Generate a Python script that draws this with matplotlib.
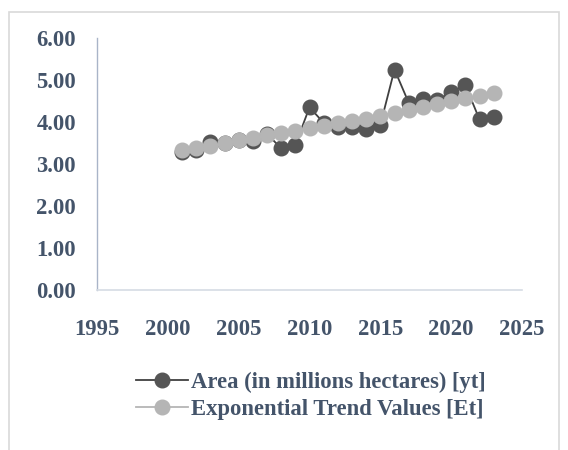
# area under cultivation vs exponential trend, excel-style line chart
import matplotlib
matplotlib.use('Agg')
import matplotlib.pyplot as plt
from matplotlib.patches import Rectangle
from matplotlib.ticker import FormatStrFormatter

# data
years = list(range(2001, 2024))
area = [3.29, 3.33, 3.52, 3.50, 3.56, 3.55, 3.72, 3.37, 3.45, 4.35, 3.98, 3.89,
        3.88, 3.83, 3.93, 5.25, 4.46, 4.55, 4.52, 4.71, 4.88, 4.06, 4.11]
trend = [3.33, 3.39, 3.44, 3.49, 3.56, 3.61, 3.69, 3.73, 3.79, 3.85, 3.90, 3.97,
         4.02, 4.08, 4.15, 4.22, 4.29, 4.36, 4.42, 4.50, 4.56, 4.63, 4.70]
labels = ['Area (in millions hectares) [yt]', 'Exponential Trend Values [Et]']
xticks = [1995, 2000, 2005, 2010, 2015, 2020, 2025]
yticks = [0, 1, 2, 3, 4, 5, 6]

txt_col = '#44546A'
font = 'Liberation Serif'
fsize = 16.3

fig = plt.figure(figsize=(5.68, 4.5), dpi=100)

# chart border (bottom edge runs off the canvas like the reference)
fig.patches.append(Rectangle((9/568, -0.05), 550/568, 1.05 - 12/450,
                             transform=fig.transFigure, fill=False,
                             edgecolor='#D9D9D9', linewidth=1.2))

ax = fig.add_axes([97/568, 1 - 290/450, 425/568, 252/450])

ax.plot(years, area, color='#404040', linewidth=1.3, marker='o',
        markersize=10.5, markerfacecolor='#555555', markeredgecolor='#555555',
        label=labels[0], zorder=3)
ax.plot(years, trend, color='#B5B5B5', linewidth=1.3, marker='o',
        markersize=10.5, markerfacecolor='#B5B5B5', markeredgecolor='#B5B5B5',
        label=labels[1], zorder=4)

ax.set_xlim(1995, 2025)
ax.set_ylim(0, 6)
ax.set_xticks(xticks)
ax.set_yticks(yticks)
ax.yaxis.set_major_formatter(FormatStrFormatter('%.2f'))

for s in ['top', 'right']:
    ax.spines[s].set_visible(False)
ax.spines['left'].set_color('#A9B4C8')
ax.spines['bottom'].set_color('#D6DCE4')
ax.spines['left'].set_linewidth(1.0)
ax.spines['bottom'].set_linewidth(1.2)

ax.tick_params(axis='both', length=0, colors=txt_col)
ax.tick_params(axis='y', pad=15)
ax.tick_params(axis='x', pad=21)
for lab in ax.get_xticklabels() + ax.get_yticklabels():
    lab.set_fontfamily(font)
    lab.set_fontweight('bold')
    lab.set_fontsize(fsize)
    lab.set_color(txt_col)

leg = fig.legend(loc='center', bbox_to_anchor=(311/568, 1 - 396/450),
                 frameon=False, handlelength=2.3, handletextpad=0.15,
                 labelspacing=0.25,
                 prop={'family': font, 'weight': 'bold', 'size': fsize})
for t in leg.get_texts():
    t.set_color(txt_col)

fig.savefig('out.png', dpi=100)
